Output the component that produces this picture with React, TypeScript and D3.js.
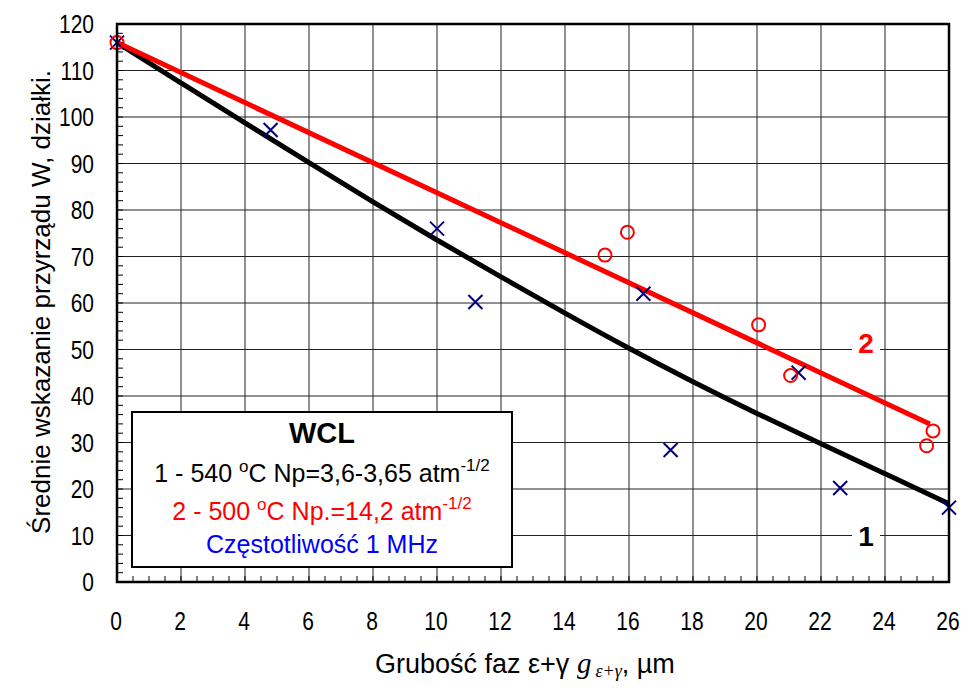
import * as d3 from "d3";

// black fitted curve (series 1), read at every 2 µm
const curveX = [0, 2, 4, 6, 8, 10, 12, 14, 16, 18, 20, 22, 24, 26];
const curveY = [116, 107.3, 98.7, 90.2, 81.7, 73.5, 65.6, 57.8, 50.2, 43, 36.2, 29.7, 23.3, 16.8];
// red fitted line (series 2)
const lineX = [0, 25.4];
const lineY = [116, 34];
// measured points
const circleX = [0, 15.25, 15.95, 20.05, 21.05, 25.3, 25.5];
const circleY = [116, 70.3, 75.2, 55.3, 44.4, 29.3, 32.5];
const crossX = [0, 4.8, 10, 11.2, 16.45, 17.3, 21.3, 22.6, 26];
const crossY = [116, 97.2, 76, 60.2, 62, 28.4, 45, 20.2, 16];

const xTicks = d3.range(0, 27, 2);
const yTicks = d3.range(0, 121, 10);

const W = 972;
const H = 695;
const left = 117;
const right = 949;
const top = 24;
const bottom = 582;

export default function App() {
  const x = d3.scaleLinear().domain([0, 26]).range([left, right]);
  const y = d3.scaleLinear().domain([0, 120]).range([bottom, top]);

  const curve = d3
    .line<number>()
    .x((d) => x(curveX[d]))
    .y((d) => y(curveY[d]))
    .curve(d3.curveBasis);
  const straight = d3
    .line<number>()
    .x((d) => x(lineX[d]))
    .y((d) => y(lineY[d]));

  const minorX = d3.range(0, 26.01, 0.5);
  const minorY = d3.range(0, 120.01, 2);
  const font = "'Liberation Sans', Arial, sans-serif";
  const serif = "'Liberation Serif', 'DejaVu Serif', serif";

  return (
    <svg width={W} height={H} style={{ position: "absolute", left: 0, top: 0 }} fontFamily={font}>
      <rect width={W} height={H} fill="#fff" />
      {/* grid */}
      {xTicks.map((t) => (
        <line key={"gx" + t} x1={x(t)} x2={x(t)} y1={top} y2={bottom} stroke="#222" strokeWidth={1} />
      ))}
      {yTicks.map((t) => (
        <line key={"gy" + t} x1={left} x2={right} y1={y(t)} y2={y(t)} stroke="#222" strokeWidth={1} />
      ))}
      {minorX.map((t) => (
        <line key={"mx" + t} x1={x(t)} x2={x(t)} y1={bottom} y2={bottom - 6} stroke="#000" strokeWidth={1} />
      ))}
      {minorY.map((t) => (
        <line key={"my" + t} x1={left} x2={left + 6} y1={y(t)} y2={y(t)} stroke="#000" strokeWidth={1} />
      ))}

      {/* series */}
      <path d={curve(d3.range(curveX.length)) || ""} fill="none" stroke="#000" strokeWidth={5} />
      <path d={straight(d3.range(lineX.length)) || ""} fill="none" stroke="#ff0000" strokeWidth={5} />
      {crossX.map((cx, i) => (
        <path
          key={"c" + i}
          d={`M${x(cx) - 7},${y(crossY[i]) - 7}L${x(cx) + 7},${y(crossY[i]) + 7}M${x(cx) - 7},${y(crossY[i]) + 7}L${x(cx) + 7},${y(crossY[i]) - 7}`}
          stroke="#000080"
          strokeWidth={2}
        />
      ))}
      {circleX.map((cx, i) => (
        <circle key={"o" + i} cx={x(cx)} cy={y(circleY[i])} r={6.5} fill="none" stroke="#ff0000" strokeWidth={2} />
      ))}

      {/* curve labels */}
      <rect x={852} y={328} width={28} height={30} fill="#fff" />
      <text x={866} y={353} textAnchor="middle" fontSize={28} fontWeight="bold" fill="#ff0000">2</text>
      <rect x={852} y={521} width={28} height={30} fill="#fff" />
      <text x={866} y={546} textAnchor="middle" fontSize={28} fontWeight="bold" fill="#000">1</text>

      {/* frame */}
      <rect x={left} y={top} width={right - left} height={bottom - top} fill="none" stroke="#000" strokeWidth={2.5} />

      {/* legend */}
      <rect x={132} y={412} width={380} height={155} fill="#fff" stroke="#000" strokeWidth={2} />
      <text x={322} y={443} textAnchor="middle" fontSize={29} fontWeight="bold">WCL</text>
      <text x={322} y={482} textAnchor="middle" fontSize={25} fill="#000">
        1 - 540 <tspan dy={-10} fontSize={17}>o</tspan>
        <tspan dy={10}>C Np=3,6-3,65 atm</tspan>
        <tspan dy={-11} fontSize={17}>-1/2</tspan>
      </text>
      <text x={322} y={520} textAnchor="middle" fontSize={25} fill="#ff0000">
        2 - 500 <tspan dy={-10} fontSize={17}>o</tspan>
        <tspan dy={10}>C Np.=14,2 atm</tspan>
        <tspan dy={-11} fontSize={17}>-1/2</tspan>
      </text>
      <text x={322} y={553} textAnchor="middle" fontSize={25} fill="#0000ff">Częstotliwość 1 MHz</text>

      {/* tick labels, slightly condensed like the original */}
      {xTicks.map((t) => (
        <text key={"tx" + t} transform={`translate(${x(t) - 1},630) scale(0.84,1)`} textAnchor="middle" fontSize={25}>{t}</text>
      ))}
      {yTicks.map((t) => (
        <text key={"ty" + t} transform={`translate(94,${y(t) + 9}) scale(0.84,1)`} textAnchor="end" fontSize={25}>{t}</text>
      ))}

      {/* axis titles */}
      <text x={375} y={673} fontSize={27}>
        Grubość faz ε+γ{" "}
        <tspan fontFamily={serif} fontStyle="italic" fontSize={29}>g</tspan>
        <tspan fontFamily={serif} fontStyle="italic" fontSize={18} dx={4} dy={4}>ε+γ</tspan>
        <tspan dy={-4}>, µm</tspan>
      </text>
      <text transform={`translate(50,302) rotate(-90)`} textAnchor="middle" fontSize={26}>
        Średnie wskazanie przyrządu W, działki.
      </text>
    </svg>
  );
}
